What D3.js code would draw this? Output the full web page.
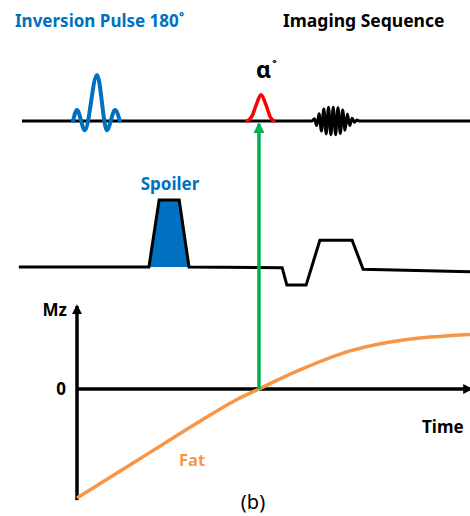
<!DOCTYPE html>
<html>
<head>
<meta charset="utf-8">
<script src="https://cdn.jsdelivr.net/npm/d3@7"></script>
<style>
  html, body { margin: 0; padding: 0; background: #fff; }
  svg { display: block; }
  text { font-family: "Noto Sans", "Open Sans", sans-serif; }
</style>
</head>
<body>
<svg id="chart" width="470" height="516"></svg>
<script>
// ---- Sequence timing (arbitrary time units) ----
const rfStart = -1.40, rfEnd = 10.0;
const inversionTime = 4.63;

// 180° inversion pulse (sinc), extrema of the waveform
const sincT = [-0.10, 0.00, 0.20, 0.51, 0.76, 0.97, 1.09];
const sincA = [0, 0.24, -0.20, 1.00, -0.20, 0.24, 0];

// α° excitation pulse
const alphaT = [4.33, 4.45, 4.56, 4.68, 4.81, 4.91, 5.01];
const alphaA = [0, 0.10, 0.35, 0.57, 0.35, 0.10, 0];

// Readout echo
const echoT = [5.98, 6.04, 6.10, 6.16, 6.22, 6.28, 6.34, 6.40, 6.46, 6.52, 6.58,
               6.64, 6.70, 6.76, 6.82, 6.88, 6.94, 7.00, 7.06, 7.12, 7.20];
const echoA = [0, 0.05, -0.10, 0.16, -0.22, 0.26, -0.28, 0.30, -0.30, 0.30, -0.30,
               0.29, -0.27, 0.24, -0.20, 0.15, -0.10, 0.06, -0.03, 0.02, 0];

// Gradient channel: spoiler, then readout prephaser and readout lobe
const gradT = [-1.48, 1.83, 2.09, 2.60, 2.85, 5.22, 5.34, 5.83, 6.18, 7.00, 7.28, 10.0];
const gradA = [0, 0, 1, 1, 0, -0.01, -0.27, -0.27, 0.40, 0.40, -0.035, -0.07];
const spoilerIdx = [1, 2, 3, 4];

// Longitudinal magnetisation of fat after inversion
const mzT = [0, 1.6, 3.2, 4.0, 4.63, 5.7, 6.95, 8.3, 10.0];
const mzV = [-1, -0.64, -0.28, -0.11, 0, 0.18, 0.35, 0.45, 0.50];

// Axis extents and tick labels
const mzAxisRange = [-1.02, 0.76];
const timeAxisEnd = 10.03;
const mzTicks = [0];

// ---- Colours ----
const BLUE = "#0070c0", RED = "#ff0000", GREEN = "#00b050", ORANGE = "#f79646", BLACK = "#000";

const svg = d3.select("#chart");

// ---- Scales ----
const x = d3.scaleLinear().domain([0, 10]).range([77, 470]);
const rfY = d3.scaleLinear().domain([0, 1]).range([121, 75]);
const gY = d3.scaleLinear().domain([0, 1]).range([267, 200]);
const mzY = d3.scaleLinear().domain([-1, 0]).range([498, 389]);

const zip = (ts, vs) => ts.map((t, i) => [t, vs[i]]);

// ---- Markers ----
const defs = svg.append("defs");
function arrow(id, color, w, l) {
  defs.append("marker")
    .attr("id", id)
    .attr("markerUnits", "userSpaceOnUse")
    .attr("markerWidth", l).attr("markerHeight", w)
    .attr("refX", l - 2).attr("refY", w / 2)
    .attr("orient", "auto")
    .append("path")
    .attr("d", `M0,0L${l},${w / 2}L0,${w}Z`)
    .attr("fill", color);
}
arrow("arrowBlack", BLACK, 10, 10);
arrow("arrowGreen", GREEN, 11, 11);

// ---- RF channel ----
const rfLine = d3.line().x(d => x(d[0])).y(d => rfY(d[1])).curve(d3.curveMonotoneX);

// baseline with echo
const rfBase = [[rfStart, 0]].concat(zip(echoT, echoA), [[rfEnd, 0]]);
svg.append("path")
  .attr("d", rfLine(rfBase))
  .attr("fill", "none").attr("stroke", BLACK).attr("stroke-width", 3)
  .attr("stroke-linejoin", "round");

// inversion pulse
svg.append("path")
  .attr("d", rfLine(zip(sincT, sincA)))
  .attr("fill", "none").attr("stroke", BLUE).attr("stroke-width", 4)
  .attr("stroke-linecap", "round");

// alpha pulse
svg.append("path")
  .attr("d", rfLine(zip(alphaT, alphaA)))
  .attr("fill", "none").attr("stroke", RED).attr("stroke-width", 3.5)
  .attr("stroke-linecap", "round");

// ---- Gradient channel ----
const gLine = d3.line().x(d => x(d[0])).y(d => gY(d[1]));
const grad = zip(gradT, gradA);
svg.append("path")
  .attr("d", gLine(spoilerIdx.map(i => grad[i])) + "Z")
  .attr("fill", BLUE).attr("stroke", "none");
svg.append("path")
  .attr("d", gLine(grad))
  .attr("fill", "none").attr("stroke", BLACK).attr("stroke-width", 3)
  .attr("stroke-linejoin", "miter");

// ---- Mz axes ----
svg.append("line")
  .attr("x1", x(0)).attr("y1", mzY(mzAxisRange[0]))
  .attr("x2", x(0)).attr("y2", mzY(mzAxisRange[1]))
  .attr("stroke", BLACK).attr("stroke-width", 3.5)
  .attr("marker-end", "url(#arrowBlack)");
svg.append("line")
  .attr("x1", x(0)).attr("y1", mzY(0))
  .attr("x2", x(timeAxisEnd)).attr("y2", mzY(0))
  .attr("stroke", BLACK).attr("stroke-width", 3.5)
  .attr("marker-end", "url(#arrowBlack)");

const yAxis = d3.axisLeft(mzY).tickValues(mzTicks).tickSize(0).tickPadding(11).tickFormat(d3.format("d"));
const yAxisG = svg.append("g").attr("transform", `translate(${x(0)},0)`).call(yAxis);
yAxisG.select(".domain").remove();
yAxisG.selectAll("text")
  .attr("font-family", "Noto Sans, sans-serif")
  .attr("font-size", 17).attr("font-weight", "bold").attr("fill", BLACK);

// ---- Fat recovery curve ----
const mzLine = d3.line().x(d => x(d[0])).y(d => mzY(d[1])).curve(d3.curveCatmullRom.alpha(0.5));
svg.append("path")
  .attr("d", mzLine(zip(mzT, mzV)))
  .attr("fill", "none").attr("stroke", ORANGE).attr("stroke-width", 3.5);

// ---- Inversion-time arrow ----
svg.append("line")
  .attr("x1", x(inversionTime)).attr("y1", mzY(0))
  .attr("x2", x(inversionTime)).attr("y2", rfY(0) + 3)
  .attr("stroke", GREEN).attr("stroke-width", 3.5)
  .attr("marker-end", "url(#arrowGreen)");

// ---- Labels ----
function label(txt, px, py, opts = {}) {
  return svg.append("text")
    .attr("x", px).attr("y", py)
    .attr("font-size", opts.size || 16)
    .attr("font-weight", opts.weight || "bold")
    .attr("fill", opts.color || BLACK)
    .attr("text-anchor", opts.anchor || "start")
    .text(txt);
}
label("Inversion Pulse 180˚", 15, 27, { size: 17, color: BLUE });
label("Imaging Sequence", 283, 27, { size: 17.5 });
label("α", 256, 78, { size: 23 });
label("˚", 272, 72, { size: 15 });
label("Spoiler", 170, 190, { size: 17, color: BLUE, anchor: "middle" });
label("Mz", 67, 316, { size: 17, anchor: "end" });
label("Time", 422, 433, { size: 17 });
label("Fat", 179, 466, { size: 16.5, color: ORANGE });
label("(b)", 253, 509, { size: 20, weight: "normal", anchor: "middle" });
</script>
</body>
</html>
